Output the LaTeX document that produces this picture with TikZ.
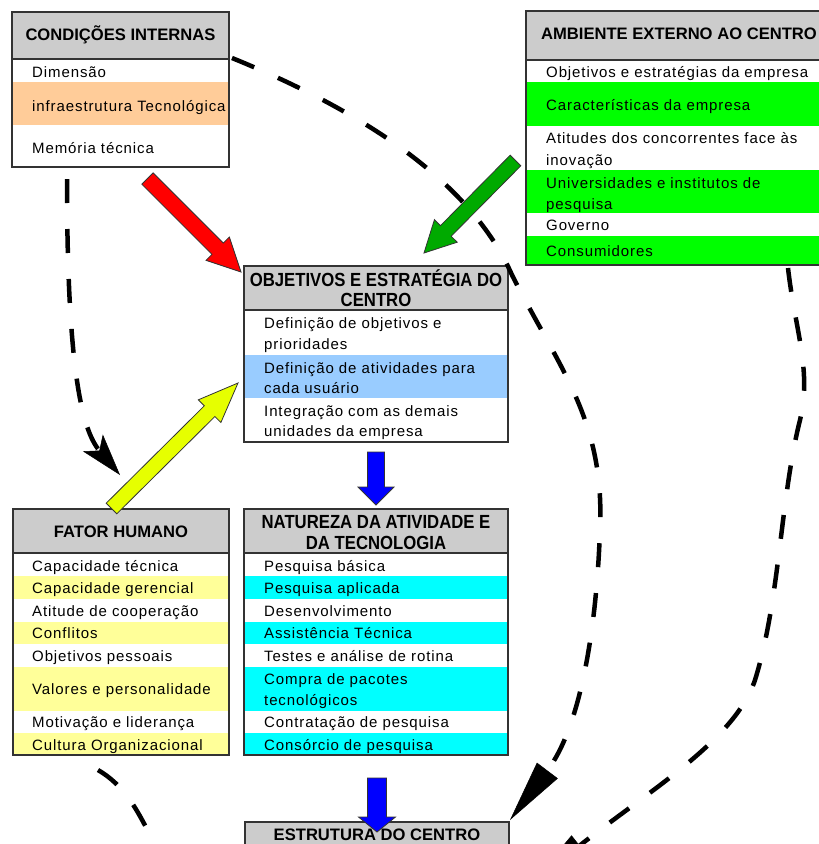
\documentclass[tikz,border=0pt]{standalone}
\usepackage{fontspec}
\usepackage{graphicx}
\setmainfont{Liberation Sans}
\newfontfamily\bodyfont[LetterSpace=6]{Liberation Sans}
\usetikzlibrary{calc,arrows.meta}
\definecolor{hdgray}{RGB}{204,204,204}
\definecolor{rowor}{RGB}{255,204,153}
\definecolor{rowgr}{RGB}{0,255,0}
\definecolor{rowbl}{RGB}{153,204,255}
\definecolor{rowye}{RGB}{255,255,153}
\definecolor{rowcy}{RGB}{0,255,255}
\definecolor{arrred}{RGB}{255,0,0}
\definecolor{arrgreen}{RGB}{0,170,0}
\definecolor{arryel}{RGB}{230,255,0}
\definecolor{arrblue}{RGB}{0,0,255}
\definecolor{bordc}{RGB}{51,51,51}
\newcommand{\cond}[1]{\scalebox{0.88}[1]{#1}}
\newcommand{\blockarrow}[7]{%
  \coordinate (#1h) at ($(#4)!#7!(#3)$);
  \filldraw[#2] ($(#3)!#5!90:(#4)$) -- ($(#1h)!#5!90:(#4)$) -- ($(#1h)!#6!90:(#4)$) -- (#4)
    -- ($(#1h)!#6!-90:(#4)$) -- ($(#1h)!#5!-90:(#4)$) -- ($(#3)!#5!-90:(#4)$) -- cycle;
}
\tikzset{
  boxframe/.style={draw=bordc, line width=1.3pt, inner sep=0pt, anchor=north west, outer sep=0pt},
  sepline/.style={draw=bordc, line width=1.3pt},
  itm/.style={anchor=base west, inner sep=0pt, font=\bodyfont\fontsize{15}{21}\selectfont},
  ttl/.style={anchor=base, inner sep=0pt, font=\bfseries\fontsize{16.6}{20}\selectfont},
  ttlc/.style={anchor=base, inner sep=0pt, font=\bfseries\fontsize{19}{21}\selectfont},
  dashconn/.style={line width=4.5pt, dash pattern=on 24pt off 26pt},
  bigtip/.style={-{Triangle[length=62pt,width=26pt,line width=0.5pt]}},
  midtip/.style={-{Stealth[length=42pt,width=26pt,inset=10pt,line width=0.5pt]}},
  blk/.style={draw=bordc, line width=0.8pt, line join=miter}
}
\begin{document}
\begin{tikzpicture}[x=1pt,y=-1pt]
\useasboundingbox (0,0) rectangle (819,844);
\clip (0,0) rectangle (819,844);
\fill[white] (0,0) rectangle (819,844);

% ---------- CONDICOES INTERNAS ----------
\fill[hdgray] (12,12) rectangle (229,59);
\fill[rowor] (12,82) rectangle (229,125);
\node[boxframe, minimum width=217pt, minimum height=155pt] (ci) at (12,12) {};
\draw[sepline] (12,59) -- (229,59);
\node[ttl] (ciT) at (120.5,40) {CONDIÇÕES INTERNAS};
\node[itm] (ci1) at (32,77.3) {Dimensão};
\node[itm] (ci2) at (32,111.7) {infraestrutura Tecnológica};
\node[itm] (ci3) at (32,153.3) {Memória técnica};

% ---------- AMBIENTE EXTERNO ----------
\fill[hdgray] (526,11) rectangle (832,60);
\fill[rowgr] (526,82) rectangle (832,126);
\fill[rowgr] (526,170) rectangle (832,213);
\fill[rowgr] (526,236) rectangle (832,265);
\node[boxframe, minimum width=306pt, minimum height=254pt] (ae) at (526,11) {};
\draw[sepline] (526,60) -- (832,60);
\node[ttl] (aeT) at (679,39.3) {AMBIENTE EXTERNO AO CENTRO};
\node[itm] (ae1) at (546,77.3) {Objetivos e estratégias da empresa};
\node[itm] (ae2) at (546,110) {Características da empresa};
\node[itm] (ae3) at (546,143.3) {Atitudes dos concorrentes face às};
\node[itm] (ae3b) at (546,165) {inovação};
\node[itm] (ae4) at (546,188.3) {Universidades e institutos de};
\node[itm] (ae4b) at (546,209.3) {pesquisa};
\node[itm] (ae5) at (546,230) {Governo};
\node[itm] (ae6) at (546,256) {Consumidores};

% ---------- OBJETIVOS E ESTRATEGIA ----------
\fill[hdgray] (244,266) rectangle (508,310);
\fill[rowbl] (244,355) rectangle (508,398);
\node[boxframe, minimum width=264pt, minimum height=176pt] (oe) at (244,266) {};
\draw[sepline] (244,310) -- (508,310);
\node[ttlc] (oeT1) at (376,286.7) {\cond{OBJETIVOS E ESTRATÉGIA DO}};
\node[ttlc] (oeT2) at (376,306.7) {\cond{CENTRO}};
\node[itm] (oe1) at (264,328.3) {Definição de objetivos e};
\node[itm] (oe1b) at (264,349.3) {prioridades};
\node[itm] (oe2) at (264,373.3) {Definição de atividades para};
\node[itm] (oe2b) at (264,393.3) {cada usuário};
\node[itm] (oe3) at (264,416.7) {Integração com as demais};
\node[itm] (oe3b) at (264,436.7) {unidades da empresa};

% ---------- FATOR HUMANO ----------
\fill[hdgray] (13,509) rectangle (229,553);
\foreach \a/\b in {576/599,622/644,667/711,733/755} \fill[rowye] (13,\a) rectangle (229,\b);
\node[boxframe, minimum width=216pt, minimum height=246pt] (fh) at (13,509) {};
\draw[sepline] (13,553) -- (229,553);
\node[ttl] (fhT) at (121,537.3) {FATOR HUMANO};
\node[itm] (fh1) at (32,571) {Capacidade técnica};
\node[itm] (fh2) at (32,593.5) {Capacidade gerencial};
\node[itm] (fh3) at (32,616) {Atitude de cooperação};
\node[itm] (fh4) at (32,638.5) {Conflitos};
\node[itm] (fh5) at (32,661) {Objetivos pessoais};
\node[itm] (fh6) at (32,694.3) {Valores e personalidade};
\node[itm] (fh7) at (32,727.7) {Motivação e liderança};
\node[itm] (fh8) at (32,750) {Cultura Organizacional};

% ---------- NATUREZA ----------
\fill[hdgray] (244,509) rectangle (508,553);
\foreach \a/\b in {576/599,622/644,667/711,733/755} \fill[rowcy] (244,\a) rectangle (508,\b);
\node[boxframe, minimum width=264pt, minimum height=246pt] (nt) at (244,509) {};
\draw[sepline] (244,553) -- (508,553);
\node[ttlc] (ntT1) at (376,528.3) {\cond{NATUREZA DA ATIVIDADE E}};
\node[ttlc] (ntT2) at (376,549.3) {\cond{DA TECNOLOGIA}};
\node[itm] (nt1) at (264,571) {Pesquisa básica};
\node[itm] (nt2) at (264,593.5) {Pesquisa aplicada};
\node[itm] (nt3) at (264,616) {Desenvolvimento};
\node[itm] (nt4) at (264,638.5) {Assistência Técnica};
\node[itm] (nt5) at (264,661) {Testes e análise de rotina};
\node[itm] (nt6) at (264,684.5) {Compra de pacotes};
\node[itm] (nt6b) at (264,705.5) {tecnológicos};
\node[itm] (nt7) at (264,727.7) {Contratação de pesquisa};
\node[itm] (nt8) at (264,750) {Consórcio de pesquisa};

% ---------- ESTRUTURA ----------
\fill[hdgray] (245,822) rectangle (509,900);
\node[boxframe, minimum width=264pt, minimum height=100pt] (es) at (245,822) {};
\node[ttl] (esT) at (377,840) {ESTRUTURA DO CENTRO};

% ---------- dashed connectors ----------
\coordinate (vStart) at (67,179);
\coordinate (vTip) at ($(fh.north)+(-1,-34)$);
\draw[dashconn, midtip] (vStart) .. controls (67,370) and (82,430) .. (vTip);

\coordinate (aStart) at ($(ci.north east)+(3,46)$);
\coordinate (aMid1) at (512,275);
\coordinate (aMid2) at (600,530);
\coordinate (aTip) at ($(es.north east)+(1,-2)$);
\draw[dashconn, bigtip] (aStart) .. controls (360,110) and (470,180) .. (aMid1)
  .. controls (560,370) and (605,420) .. (aMid2)
  .. controls (596,640) and (578,730) .. (aTip);

\coordinate (bStart) at ($(ae.south west)+(262,3)$);
\coordinate (bMid1) at (800,420);
\coordinate (bMid2) at (755,680);
\coordinate (bTip) at ($(es.north east)+(22,62)$);
\draw[dashconn, bigtip] (bStart) .. controls (795,330) and (812,370) .. (bMid1)
  .. controls (780,500) and (780,600) .. (bMid2)
  .. controls (735,740) and (650,790) .. (bTip);

\coordinate (cStart) at (98,770);
\coordinate (cTip) at ($(es.north west)+(0,33)$);
\draw[dashconn, bigtip] (cStart) .. controls (150,800) and (150,870) .. (cTip);

% ---------- block arrows ----------
\coordinate (rTail) at (147.5,178.5);
\coordinate (rTip) at ($(oe.north west)+(-3,6)$);
\blockarrow{r}{blk, fill=arrred}{rTail}{rTip}{8pt}{16.5pt}{33pt}

\coordinate (gTail) at (515.5,160.5);
\coordinate (gTip) at (424,253);
\blockarrow{g}{blk, fill=arrgreen}{gTail}{gTip}{7.5pt}{16pt}{31pt}

\coordinate (yTail) at ($(fh.north)+(-9.5,-0.5)$);
\coordinate (yTip) at (238,383);
\blockarrow{y}{blk, fill=arryel}{yTail}{yTip}{7.5pt}{16pt}{40pt}

\coordinate (b1Tail) at ($(oe.south)+(0,10)$);
\coordinate (b1Tip) at ($(nt.north)+(0,-4)$);
\blockarrow{ba}{blk, fill=arrblue}{b1Tail}{b1Tip}{8.5pt}{18pt}{18pt}

\coordinate (b2Tail) at ($(nt.south)+(1,23)$);
\coordinate (b2Tip) at ($(es.north)+(0,10)$);
\blockarrow{bb}{blk, fill=arrblue}{b2Tail}{b2Tip}{9.5pt}{18.5pt}{15pt}
\end{tikzpicture}
\end{document}
